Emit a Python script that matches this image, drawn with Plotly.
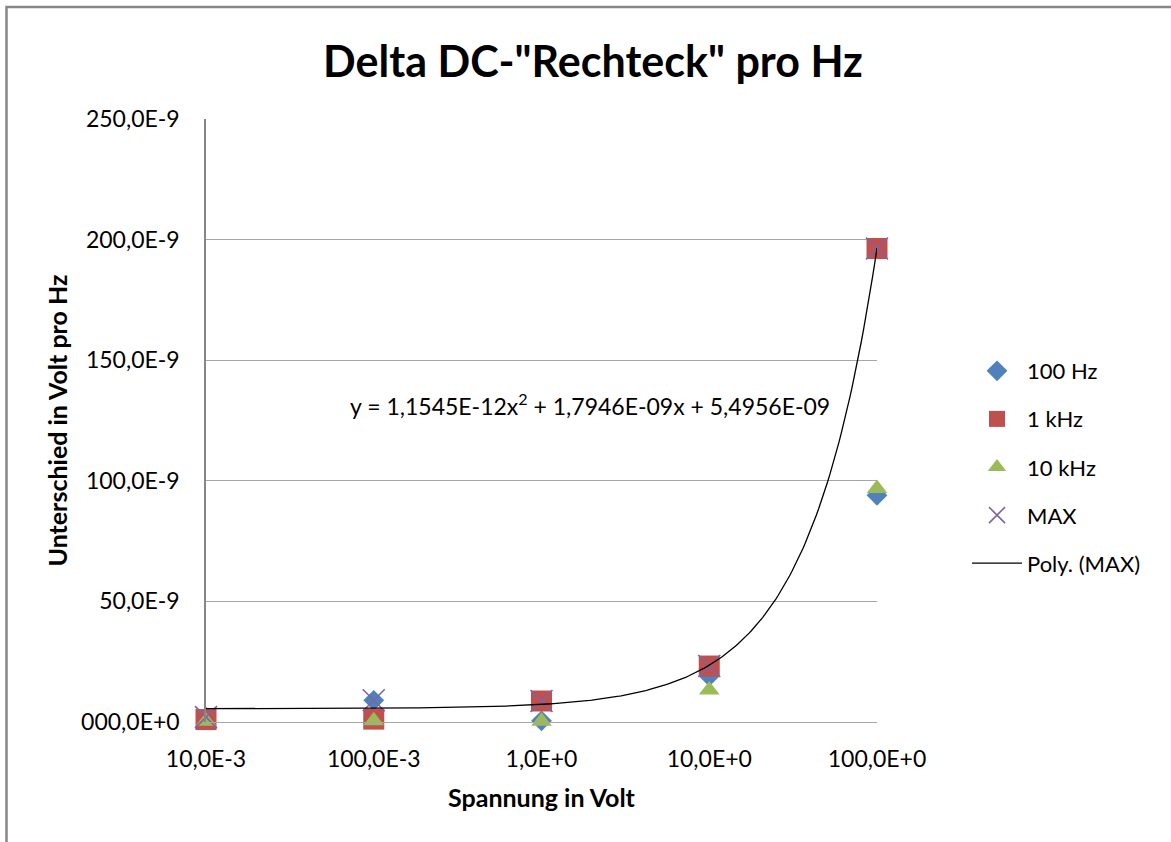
import numpy as np
import plotly.graph_objects as go

# ---- data ----
voltage = [0.01, 0.1, 1.0, 10.0, 100.0]
hz100 = [2.0e-9, 9.0e-9, 0.5e-9, 19.0e-9, 94.0e-9]
khz1 = [1.0e-9, 1.2e-9, 8.7e-9, 23.2e-9, 196.3e-9]
khz10 = [0.3e-9, 0.5e-9, 0.3e-9, 13.3e-9, 96.8e-9]
vmax = [2.0e-9, 9.0e-9, 8.7e-9, 23.2e-9, 196.3e-9]
poly_coef = [1.1545e-12, 1.7946e-09, 5.4956e-09]  # a x^2 + b x + c (from chart's equation)

x_ticks = [0.01, 0.1, 1, 10, 100]
x_ticktext = ["10,0E-3", "100,0E-3", "1,0E+0", "10,0E+0", "100,0E+0"]
y_ticks = [0, 50e-9, 100e-9, 150e-9, 200e-9, 250e-9]
y_ticktext = ["000,0E+0", "50,0E-9", "100,0E-9", "150,0E-9", "200,0E-9", "250,0E-9"]

FONT = "Lato"
W, H = 1171, 842
L, R, T, B = 206, 877, 119, 722

def px_x(p):
    return (p - L) / (R - L)

def px_y(p):
    return (B - p) / (B - T)

xs = np.logspace(-2, 2, 300)
ys = np.polyval(poly_coef, xs)

fig = go.Figure()
fig.add_trace(go.Scatter(x=voltage, y=hz100, mode="markers", name="100 Hz", legendgroup="a",
                         cliponaxis=False,
                         marker=dict(symbol="diamond", size=16, color="#4F81BD")))
fig.add_trace(go.Scatter(x=voltage, y=khz1, mode="markers", name="1 kHz", legendgroup="b",
                         cliponaxis=False,
                         marker=dict(symbol="square", size=21, color="#C0504D")))
fig.add_trace(go.Scatter(x=voltage, y=khz10, mode="markers", name="10 kHz", legendgroup="c",
                         cliponaxis=False,
                         marker=dict(symbol="triangle-up", size=18, color="#9BBB59")))
fig.add_trace(go.Scatter(x=voltage, y=vmax, mode="markers", name="MAX", legendgroup="d",
                         cliponaxis=False,
                         marker=dict(symbol="x-thin-open", size=22,
                                     line=dict(color="#8064A2", width=1.6), color="#8064A2")))
fig.add_trace(go.Scatter(x=xs, y=ys, mode="lines", name="Poly. (MAX)", legendgroup="e",
                         line=dict(color="black", width=1.3)))

fig.update_layout(
    width=W, height=H,
    margin=dict(l=L, r=W - R, t=T, b=H - B),
    paper_bgcolor="white", plot_bgcolor="white",
    font=dict(family=FONT, color="#000000", size=23),
    showlegend=True,
    legend=dict(x=px_x(967), y=px_y(350), xanchor="left", yanchor="top",
                font=dict(size=22, family=FONT), tracegroupgap=16.5, itemwidth=50,
                bgcolor="rgba(0,0,0,0)"),
    xaxis=dict(type="log", range=[-2, 2], tickvals=x_ticks, ticktext=x_ticktext,
               showgrid=False, showline=True, linecolor="#A6A6A6", linewidth=1.3,
               ticks="", ticklabelstandoff=16, tickfont=dict(size=23, family=FONT),
               title=dict(text="<b>Spannung in Volt</b>", font=dict(size=25, family=FONT), standoff=18),
               zeroline=False),
    yaxis=dict(range=[0, 250e-9], tickvals=y_ticks, ticktext=y_ticktext,
               showgrid=True, gridcolor="#A6A6A6", gridwidth=1.3,
               showline=True, linecolor="#868686", linewidth=1.5,
               ticks="", ticklabelstandoff=20, tickfont=dict(size=23, family=FONT),
               title=dict(text="<b>Unterschied in Volt pro Hz</b>", font=dict(size=25, family=FONT), standoff=6),
               zeroline=False),
    title=dict(text="<b>Delta DC-\"Rechteck\" pro Hz</b>", x=593 / W, xanchor="center",
               y=1 - 62 / H, yanchor="middle", font=dict(size=43, family=FONT, color="black")),
)

fig.add_annotation(text="y = 1,1545E-12x<sup>2</sup> + 1,7946E-09x + 5,4956E-09",
                   xref="paper", yref="paper", x=px_x(590), y=px_y(404),
                   xanchor="center", yanchor="middle", showarrow=False,
                   font=dict(size=23, family=FONT, color="black"))

# outer chart border
fig.add_shape(type="rect", xref="paper", yref="paper",
              x0=px_x(6.5), y0=px_y(880), x1=px_x(1200), y1=px_y(7),
              line=dict(color="#878787", width=2.5), fillcolor="rgba(0,0,0,0)", layer="below")

fig.write_html("out.html", config={"displayModeBar": False},
               post_script="document.body.style.margin='0';document.body.style.overflow='hidden';")
